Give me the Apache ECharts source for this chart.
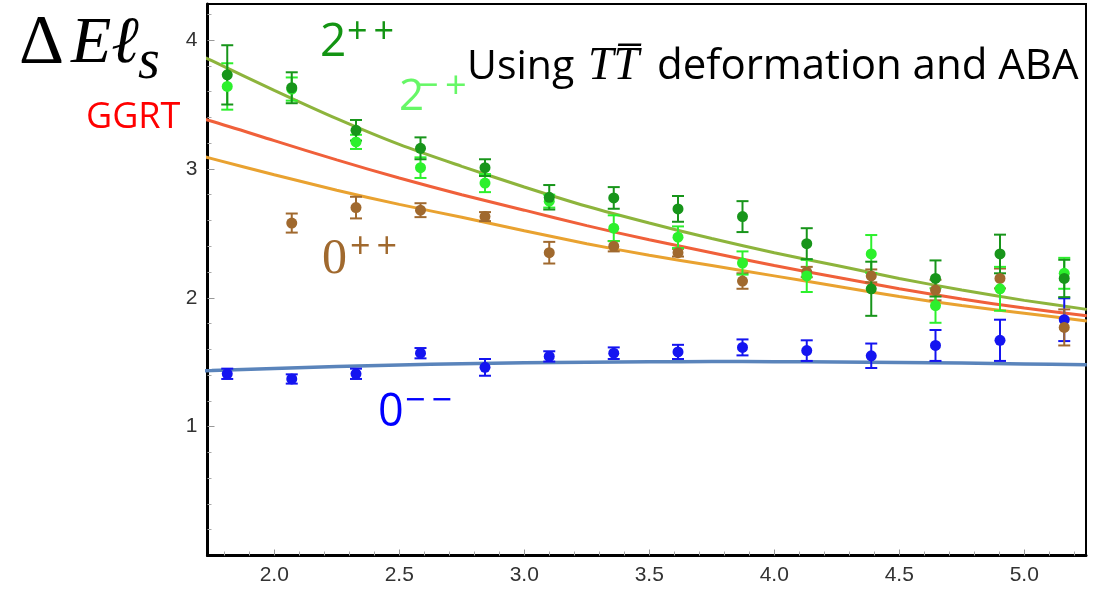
<!DOCTYPE html>
<html>
<head>
<meta charset="utf-8">
<script src="https://cdn.jsdelivr.net/npm/echarts@6/dist/echarts.min.js"></script>
<style>
  html, body { margin: 0; padding: 0; background: #fff; }
  #chart { width: 1103px; height: 593px; }
</style>
</head>
<body>
<div id="chart"></div>
<script>
// x positions of the lattice points (same for every state)
const xPoints = [1.812, 2.070, 2.327, 2.585, 2.843, 3.100, 3.358, 3.615, 3.873, 4.130, 4.388, 4.645, 4.903, 5.160];

// 2++ (dark green)
const state2pp    = [3.73, 3.63, 3.30, 3.16, 3.01, 2.78, 2.775, 2.69, 2.63, 2.42, 2.07, 2.15, 2.34, 2.15];
const state2ppErr = [0.23, 0.12, 0.08, 0.085, 0.065, 0.095, 0.084, 0.10, 0.12, 0.12, 0.21, 0.14, 0.15, 0.145];
// 2-+ (light green)
const state2mp    = [3.64, 3.62, 3.21, 3.01, 2.89, 2.75, 2.54, 2.47, 2.27, 2.17, 2.34, 1.94, 2.07, 2.19];
const state2mpErr = [0.18, 0.09, 0.055, 0.08, 0.07, 0.05, 0.10, 0.084, 0.09, 0.125, 0.147, 0.134, 0.17, 0.12];
// 0++ (brown), no point at the first x
const state0pp    = [null, 2.58, 2.70, 2.68, 2.63, 2.35, 2.40, 2.35, 2.13, 2.20, 2.17, 2.06, 2.15, 1.77];
const state0ppErr = [null, 0.074, 0.084, 0.054, 0.035, 0.084, 0.04, 0.03, 0.06, 0.04, 0.05, 0.08, 0.077, 0.14];
// 0-- (blue)
const state0mm    = [1.41, 1.37, 1.41, 1.57, 1.46, 1.545, 1.57, 1.58, 1.615, 1.59, 1.55, 1.63, 1.67, 1.83];
const state0mmErr = [0.04, 0.036, 0.04, 0.04, 0.065, 0.04, 0.045, 0.055, 0.062, 0.08, 0.095, 0.12, 0.16, 0.166];

const xCurve      = [1.67, 1.75, 2.0, 2.25, 2.5, 2.75, 3.0, 3.25, 3.5, 3.75, 4.0, 4.25, 4.5, 4.75, 5.0, 5.25];
const curveGreen  = [3.91, 3.84, 3.61, 3.39, 3.19, 3.02, 2.86, 2.71, 2.58, 2.46, 2.35, 2.25, 2.15, 2.06, 1.98, 1.91];
const curveGGRT   = [3.41, 3.37, 3.22, 3.07, 2.93, 2.80, 2.68, 2.56, 2.45, 2.35, 2.25, 2.16, 2.07, 1.99, 1.92, 1.86];
const curveOrange = [3.12, 3.08, 2.955, 2.835, 2.725, 2.625, 2.52, 2.42, 2.33, 2.25, 2.17, 2.09, 2.01, 1.94, 1.88, 1.82];
const curveBlue   = [1.43, 1.435, 1.452, 1.466, 1.478, 1.488, 1.495, 1.50, 1.503, 1.505, 1.504, 1.502, 1.498, 1.493, 1.487, 1.48];

// ticks
const xTickLabels = [2.0, 2.5, 3.0, 3.5, 4.0, 4.5, 5.0];
const xMinorTicks = [1.8, 1.9, 2.1, 2.2, 2.3, 2.4, 2.6, 2.7, 2.8, 2.9, 3.1, 3.2, 3.3, 3.4, 3.6, 3.7, 3.8, 3.9,
                     4.1, 4.2, 4.3, 4.4, 4.6, 4.7, 4.8, 4.9, 5.1, 5.2];
const yTickLabels = [1, 2, 3, 4];
const yMinorTicks = [0.2, 0.4, 0.6, 0.8, 1.2, 1.4, 1.6, 1.8, 2.2, 2.4, 2.6, 2.8, 3.2, 3.4, 3.6, 3.8, 4.2];

const X_MIN = 1.733, X_MAX = 5.247, Y_MIN = 0, Y_MAX = 4.28;

const chart = echarts.init(document.getElementById('chart'));

function pairs(xs, ys) {
  return xs.map((x, i) => [x, ys[i]]).filter(p => p[1] != null);
}
function triples(xs, ys, es) {
  return xs.map((x, i) => [x, ys[i], es[i]]).filter(p => p[1] != null);
}

// vertical bar with caps, placed through the axes
function errorBars(color) {
  return function (params, api) {
    const x = api.value(0), y = api.value(1), e = api.value(2);
    const hi = api.coord([x, y + e]);
    const lo = api.coord([x, y - e]);
    const w = 6;
    const style = { stroke: color, lineWidth: 2 };
    return {
      type: 'group',
      children: [
        { type: 'line', shape: { x1: hi[0], y1: hi[1], x2: lo[0], y2: lo[1] }, style: style },
        { type: 'line', shape: { x1: hi[0] - w, y1: hi[1], x2: hi[0] + w, y2: hi[1] }, style: style },
        { type: 'line', shape: { x1: lo[0] - w, y1: lo[1], x2: lo[0] + w, y2: lo[1] }, style: style }
      ]
    };
  };
}

function curve(ys, color, width) {
  return {
    type: 'line', data: pairs(xCurve, ys), smooth: 0.3,
    showSymbol: false, symbol: 'none', clip: false, silent: true,
    lineStyle: { color: color, width: width || 3 }, z: 2
  };
}

function points(ys, es, color) {
  return [
    { type: 'custom', renderItem: errorBars(color), data: triples(xPoints, ys, es),
      encode: { x: 0, y: 1 }, z: 3, silent: true },
    { type: 'scatter', data: pairs(xPoints, ys), symbolSize: 11,
      itemStyle: { color: color, opacity: 1 }, z: 4, silent: true }
  ];
}

function txt(x, y, text, font, color) {
  return {
    type: 'text', x: x, y: y, z: 100, silent: true,
    style: { text: text, font: font, fill: color, align: 'left', verticalAlign: 'middle',
             textAlign: 'left', textVerticalAlign: 'middle' }
  };
}

const SANS = '"Open Sans"';
const SERIF = '"Liberation Serif"';

const option = {
  animation: false,
  backgroundColor: '#fff',
  grid: { left: 207.5, right: 17, top: 4, bottom: 37.5, show: true, borderColor: '#000', borderWidth: 2 },
  xAxis: [
    {
      type: 'value', min: X_MIN, max: X_MAX, splitLine: { show: false },
      axisLine: { show: true, onZero: false, lineStyle: { color: '#000', width: 3 } },
      axisTick: { show: true, inside: true, length: 6, customValues: xTickLabels, lineStyle: { color: '#999' } },
      axisLabel: { customValues: xTickLabels, formatter: v => v.toFixed(1), color: '#333',
                   fontSize: 21, fontFamily: 'Liberation Sans', margin: 9 }
    },
    {
      type: 'value', min: X_MIN, max: X_MAX, position: 'bottom', splitLine: { show: false },
      axisLine: { show: false }, axisLabel: { show: false },
      axisTick: { show: true, inside: true, length: 4, customValues: xMinorTicks, lineStyle: { color: '#aaa' } }
    }
  ],
  yAxis: [
    {
      type: 'value', min: Y_MIN, max: Y_MAX, splitLine: { show: false },
      axisLine: { show: true, onZero: false, lineStyle: { color: '#000', width: 3 } },
      axisTick: { show: true, inside: true, length: 7, customValues: yTickLabels, lineStyle: { color: '#999' } },
      axisLabel: { customValues: yTickLabels, color: '#333', fontSize: 21, fontFamily: 'Liberation Sans', margin: 10 }
    },
    {
      type: 'value', min: Y_MIN, max: Y_MAX, position: 'left', splitLine: { show: false },
      axisLine: { show: false }, axisLabel: { show: false },
      axisTick: { show: true, inside: true, length: 4, customValues: yMinorTicks, lineStyle: { color: '#aaa' } }
    }
  ],
  series: [
    curve(curveBlue, '#5a84bb', 3.5),
    curve(curveOrange, '#e9a230'),
    curve(curveGGRT, '#f0603a'),
    curve(curveGreen, '#8db43c'),
    ...points(state0mm, state0mmErr, '#1414f0'),
    ...points(state0pp, state0ppErr, '#a0692e'),
    ...points(state2mp, state2mpErr, '#2cf02c'),
    ...points(state2pp, state2ppErr, '#17951a')
  ],
  graphic: [
    txt(19, 45, 'Δ', '70px ' + SERIF, '#000'),
    txt(71, 45, 'Eℓ', 'italic 66px ' + SERIF, '#000'),
    txt(138, 63, 's', 'italic 56px ' + SERIF, '#000'),
    txt(86, 118, 'GGRT', '36px ' + SANS, '#ff0000'),
    txt(320, 43, '2', '46px ' + SANS, '#139413'),
    txt(347, 33, '+\u2009+', '36px ' + SANS, '#139413'),
    txt(399, 97, '2', '44px ' + SANS, '#66f766'),
    txt(417, 87, '\u2212\u2009+', '38px ' + SANS, '#66f766'),
    txt(322, 260, '0', '50px ' + SERIF, '#a0692e'),
    txt(350, 248, '+\u2009+', '36px ' + SANS, '#a0692e'),
    txt(378, 413, '0', '45px ' + SANS, '#0000ff'),
    txt(405, 402, '\u2212\u2009\u2212', '36px ' + SANS, '#0000ff'),
    txt(467, 67, 'Using', '41px ' + SANS, '#000'),
    txt(588, 67, 'TT\u0305', 'italic 46px ' + SERIF, '#000'),
    txt(657, 67, 'deformation and ABA', '42px ' + SANS, '#000')
  ]
};

chart.setOption(option);
</script>
</body>
</html>
